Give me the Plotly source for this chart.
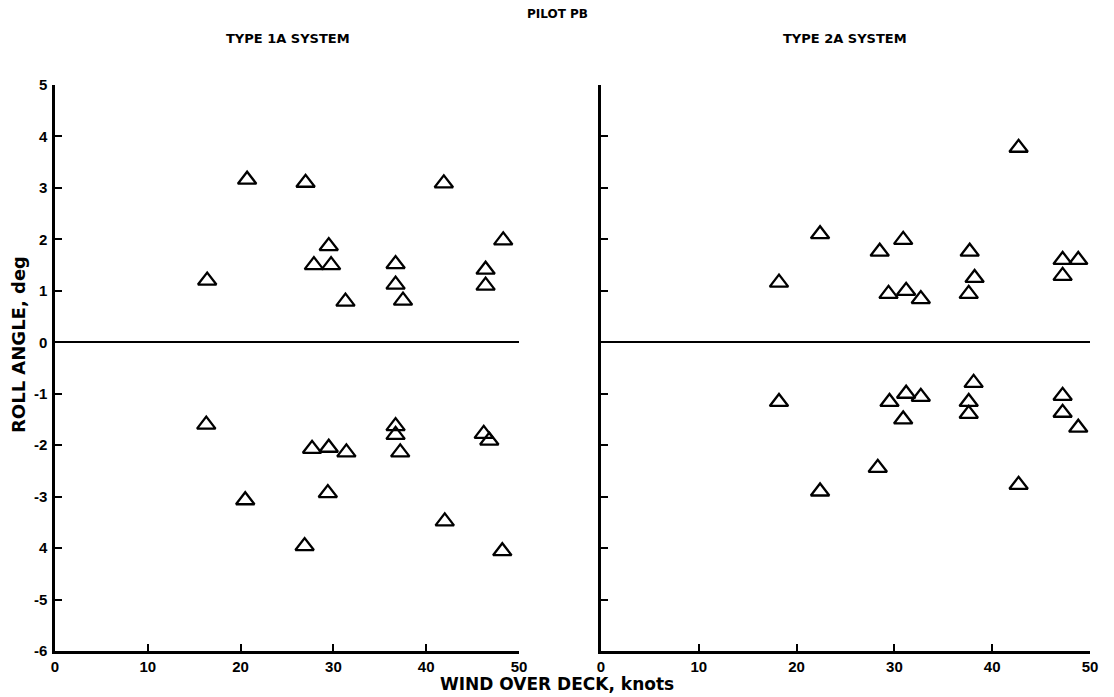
import plotly.graph_objects as go

# Wind over deck (knots) and roll angle (deg), Type 1A system
type1a_wind = [16.4, 20.7, 27.0, 27.9, 29.5, 29.75, 31.3, 36.7, 36.7, 37.5, 41.9, 46.4, 46.4, 48.3,
               16.3, 20.5, 26.9, 27.7, 29.5, 29.4, 31.4, 36.7, 36.7, 37.2, 42.0, 46.2, 46.8, 48.2]
type1a_roll = [1.20, 3.16, 3.10, 1.50, 1.87, 1.50, 0.79, 1.52, 1.12, 0.81, 3.09, 1.41, 1.10, 1.98,
               -1.60, -3.07, -3.96, -2.07, -2.05, -2.93, -2.14, -1.63, -1.80, -2.14, -3.48, -1.78, -1.91, -4.06]

# Wind over deck (knots) and roll angle (deg), Type 2A system
type2a_wind = [18.2, 22.4, 28.5, 30.9, 29.4, 31.2, 32.7, 37.7, 38.2, 37.6, 42.7, 47.2, 47.2, 48.8,
               18.2, 22.4, 28.3, 29.5, 31.2, 30.9, 32.7, 38.1, 37.6, 37.6, 42.7, 47.2, 47.2, 48.8]
type2a_roll = [1.16, 2.10, 1.76, 1.99, 0.94, 1.00, 0.84, 1.76, 1.25, 0.94, 3.78, 1.60, 1.29, 1.60,
               -1.16, -2.90, -2.44, -1.16, -1.00, -1.50, -1.06, -0.79, -1.16, -1.39, -2.77, -1.04, -1.37, -1.66]

y_tick_vals = [5, 4, 3, 2, 1, 0, -1, -2, -3, -4, -5, -6]
y_tick_text = ["5", "4", "3", "2", "1", "0", "-1", "-2", "-3", "4", "-5", "-6"]
x_tick_vals = [0, 10, 20, 30, 40, 50]
x_tick_text = ["0", "10", "20", "30", "40", "50"]

TICK_FONT = "Liberation Sans"
TITLE_FONT = "DejaVu Sans"

# plot area in pixels: left 55, right 1090, top 85, bottom 651
PLOT_H = 697 - 85 - 46
PLOT_W = 1114 - 55 - 24


def py(pixel_y):
    """Paper y coordinate of a pixel row."""
    return (651 - pixel_y) / PLOT_H


def px(pixel_x):
    """Paper x coordinate of a pixel column."""
    return (pixel_x - 55) / PLOT_W


def bold(labels):
    return [f"<b>{t}</b>" for t in labels]


marker_style = dict(symbol="triangle-up-open", size=16, color="black",
                    line=dict(width=2.3, color="black"))

fig = go.Figure()
fig.add_trace(go.Scatter(x=type1a_wind, y=type1a_roll, mode="markers",
                         marker=marker_style, xaxis="x", yaxis="y", showlegend=False))
fig.add_trace(go.Scatter(x=type2a_wind, y=type2a_roll, mode="markers",
                         marker=marker_style, xaxis="x2", yaxis="y2", showlegend=False))

axis_common = dict(showline=True, linecolor="black", linewidth=2.5, showgrid=False,
                   ticks="inside", ticklen=7, tickwidth=2, tickcolor="black",
                   tickfont=dict(family=TICK_FONT, size=15, color="black"))

x_common = dict(axis_common, range=[0, 50], tickvals=x_tick_vals,
                ticktext=bold(x_tick_text), zeroline=False)
y_common = dict(axis_common, range=[-6, 5], tickvals=y_tick_vals,
                ticktext=bold(y_tick_text),
                zeroline=True, zerolinecolor="black", zerolinewidth=2.2)


def label(text, x, y, size, angle=0):
    return dict(text=f"<b>{text}</b>", x=x, y=y, xref="paper", yref="paper",
                xanchor="center", yanchor="middle", textangle=angle, showarrow=False,
                font=dict(family=TITLE_FONT, size=size, color="black"))


fig.update_layout(
    width=1114, height=697,
    paper_bgcolor="white", plot_bgcolor="white",
    margin=dict(l=55, r=24, t=85, b=46),
    xaxis=dict(x_common, domain=[0, px(519)], anchor="y"),
    yaxis=dict(y_common, domain=[0, 1], anchor="x", ticklabelstandoff=2),
    xaxis2=dict(x_common, domain=[px(601), 1], anchor="y2"),
    yaxis2=dict(y_common, domain=[0, 1], anchor="x2", showticklabels=False),
    annotations=[
        label("PILOT PB", px(557), py(14), 12),
        label("TYPE 1A SYSTEM", px(288), py(38), 13),
        label("TYPE 2A SYSTEM", px(845), py(38), 13),
        label("WIND OVER DECK, knots", px(557), py(684), 17),
        label("ROLL ANGLE, deg", px(18), py(345), 18, angle=-90),
    ],
)

fig.write_html("out.html")
